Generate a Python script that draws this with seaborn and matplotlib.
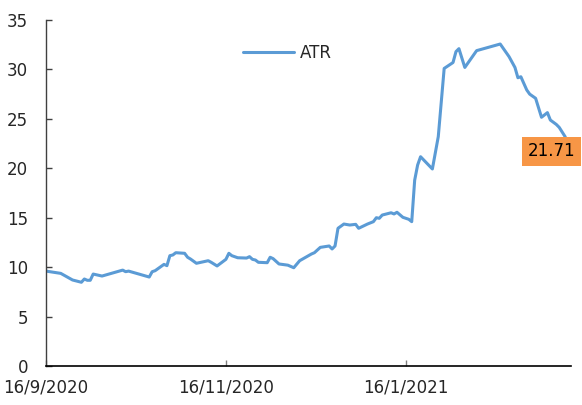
import matplotlib
matplotlib.use("Agg")
import matplotlib.pyplot as plt
import matplotlib.dates as mdates
import seaborn as sns
import pandas as pd

dates = [
    "2020-09-16", "2020-09-21", "2020-09-25", "2020-09-28", "2020-09-29", "2020-09-30",
    "2020-10-01", "2020-10-02", "2020-10-05", "2020-10-12", "2020-10-13", "2020-10-14",
    "2020-10-21", "2020-10-22", "2020-10-23", "2020-10-26", "2020-10-27", "2020-10-28",
    "2020-10-29", "2020-10-30", "2020-11-02", "2020-11-03", "2020-11-04", "2020-11-06",
    "2020-11-10", "2020-11-11", "2020-11-13", "2020-11-16", "2020-11-17", "2020-11-18",
    "2020-11-20", "2020-11-23", "2020-11-24", "2020-11-25", "2020-11-26", "2020-11-27",
    "2020-11-30", "2020-12-01", "2020-12-02", "2020-12-04", "2020-12-07", "2020-12-09",
    "2020-12-11", "2020-12-15", "2020-12-16", "2020-12-18", "2020-12-21", "2020-12-22",
    "2020-12-23", "2020-12-24", "2020-12-26", "2020-12-28", "2020-12-30", "2020-12-31",
    "2021-01-03", "2021-01-05", "2021-01-06", "2021-01-07", "2021-01-08", "2021-01-11",
    "2021-01-12", "2021-01-13", "2021-01-15", "2021-01-17", "2021-01-18", "2021-01-19",
    "2021-01-20", "2021-01-21", "2021-01-25", "2021-01-27", "2021-01-29", "2021-02-01",
    "2021-02-02", "2021-02-03", "2021-02-05", "2021-02-09", "2021-02-17", "2021-02-20",
    "2021-02-22", "2021-02-23", "2021-02-24", "2021-02-26", "2021-02-27", "2021-03-01",
    "2021-03-03", "2021-03-05", "2021-03-06", "2021-03-08", "2021-03-09", "2021-03-11",
    "2021-03-13",
]
atr = [
    9.60, 9.37, 8.70, 8.47, 8.80, 8.67,
    8.67, 9.30, 9.10, 9.70, 9.54, 9.60,
    9.00, 9.54, 9.64, 10.28, 10.15, 11.16,
    11.23, 11.46, 11.40, 11.00, 10.82, 10.39,
    10.65, 10.49, 10.12, 10.79, 11.40, 11.16,
    10.95, 10.92, 11.06, 10.79, 10.72, 10.49,
    10.45, 11.00, 10.86, 10.32, 10.20, 9.94,
    10.65, 11.33, 11.46, 12.00, 12.14, 11.84,
    12.14, 13.93, 14.36, 14.26, 14.33, 13.93,
    14.36, 14.60, 15.00, 14.94, 15.27, 15.50,
    15.38, 15.55, 15.04, 14.84, 14.60, 18.80,
    20.33, 21.17, 19.93, 23.20, 30.10, 30.70,
    31.80, 32.10, 30.20, 31.90, 32.57, 31.29,
    30.20, 29.16, 29.26, 27.92, 27.50, 27.08,
    25.16, 25.63, 24.88, 24.44, 24.14, 23.20,
    21.71,
]
series_name = "ATR"
last_label = "21.71"
tick_dates = ["2020-09-16", "2020-11-16", "2021-01-16"]
tick_labels = ["16/9/2020", "16/11/2020", "16/1/2021"]
y_ticks = [0, 5, 10, 15, 20, 25, 30, 35]

df = pd.DataFrame({"date": pd.to_datetime(dates), "value": atr})

sns.set_style("white")
plt.rcParams["font.family"] = ["DejaVu Sans"]

fig = plt.figure(figsize=(5.82, 4.05), dpi=100)
ax = fig.add_axes([46 / 582, 1 - 366 / 405, (571 - 46) / 582, (366 - 20) / 405])

sns.lineplot(data=df, x="date", y="value", ax=ax, color="#5B9BD5",
             linewidth=2.2, label=series_name, zorder=2)

ax.set_xlim(df["date"].iloc[0], df["date"].iloc[-1])
ax.set_ylim(0, 35)
ax.set_yticks(y_ticks)
ax.set_xticks(pd.to_datetime(tick_dates))
ax.set_xticklabels(tick_labels)
ax.set_xlabel("")
ax.set_ylabel("")

for s in ["top", "right"]:
    ax.spines[s].set_visible(False)
ax.spines["left"].set_color("#404040")
ax.spines["bottom"].set_color("#000000")
ax.spines["left"].set_linewidth(1.0)
ax.spines["bottom"].set_linewidth(1.2)

ax.tick_params(axis="y", direction="in", length=4.5, width=1, color="#404040",
               labelsize=12, pad=13, left=True)
ax.tick_params(axis="x", direction="in", length=4, width=1, color="#808080",
               labelsize=12, pad=9, bottom=True)
ax.grid(False)

leg = ax.legend(loc="upper center", bbox_to_anchor=(0.46, 0.975), frameon=False,
                fontsize=12, handlelength=3.1, handletextpad=0.35)

ax.annotate(last_label, xy=(df["date"].iloc[-1], atr[-1]), xytext=(-14, 0),
            textcoords="offset points", ha="center", va="center", fontsize=12,
            color="black", annotation_clip=False, zorder=5,
            bbox=dict(boxstyle="square,pad=0.32", fc="#F79646", ec="none"))

fig.savefig("out.png", dpi=100)
